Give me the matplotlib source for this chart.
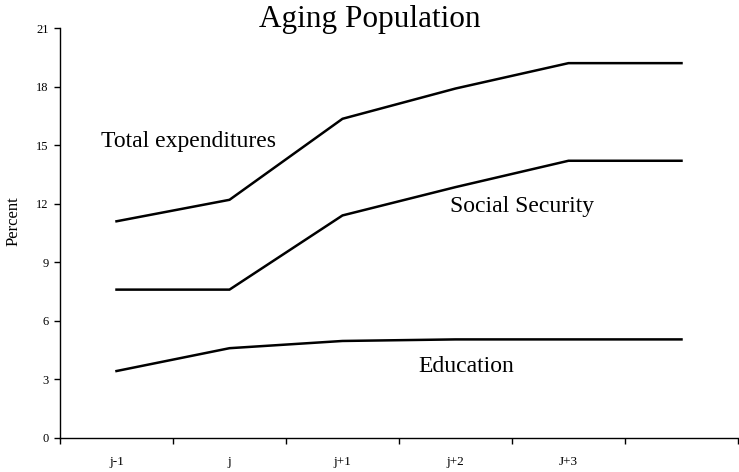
import matplotlib
matplotlib.use("Agg")
import matplotlib.pyplot as plt
import numpy as np

categories = ["j-1", "j", "j+1", "j+2", "J+3", ""]
total = [11.1, 12.2, 16.35, 17.9, 19.2, 19.2]
social_security = [7.6, 7.6, 11.4, 12.85, 14.2, 14.2]
education = [3.43, 4.6, 4.97, 5.05, 5.05, 5.05]
yticks = [0, 3, 6, 9, 12, 15, 18, 21]

plt.rcParams['font.family'] = ['Liberation Serif', 'DejaVu Serif']

fig = plt.figure(figsize=(7.39, 4.72), dpi=100)
ax = fig.add_axes([60/739, 34/472, 678/739, 410/472])

x = np.arange(len(categories)) + 0.5
for s in (total, social_security, education):
    ax.plot(x, s, color="black", lw=1.8, solid_joinstyle="miter")

ax.set_xlim(0, len(categories))
ax.set_ylim(0, 21)
ax.set_yticks(yticks)
ax.set_yticklabels([str(v) for v in yticks], fontsize=9)
ax.set_xticks(np.arange(len(categories) + 1))
ax.set_xticklabels([])
ax.set_xticks(x, minor=True)
ax.set_xticklabels(categories, minor=True, fontsize=9.5)
ax.tick_params(axis="x", which="minor", length=0, pad=13)
ax.tick_params(axis="x", which="major", length=4, direction="out", width=1)
ax.tick_params(axis="y", length=4, direction="out", width=1, pad=4)
for sp in ("top", "right"):
    ax.spines[sp].set_visible(False)
for sp in ("left", "bottom"):
    ax.spines[sp].set_linewidth(1)

ax.set_ylabel("Percent", fontsize=12, va="center")
ax.yaxis.set_label_coords(-(60 - 13.5) / 678, (438 - 221) / 410)
fig.text(369.5/739, 1 - 27/472, "Aging Population", ha="center", va="baseline", fontsize=22.5)

ax.text(0.36, 14.89, "Total expenditures", fontsize=17, ha="left", va="baseline")
ax.text(3.45, 11.58, "Social Security", fontsize=17, ha="left", va="baseline")
ax.text(3.17, 3.365, "Education", fontsize=17, ha="left", va="baseline")

fig.savefig("out.png", dpi=100)
